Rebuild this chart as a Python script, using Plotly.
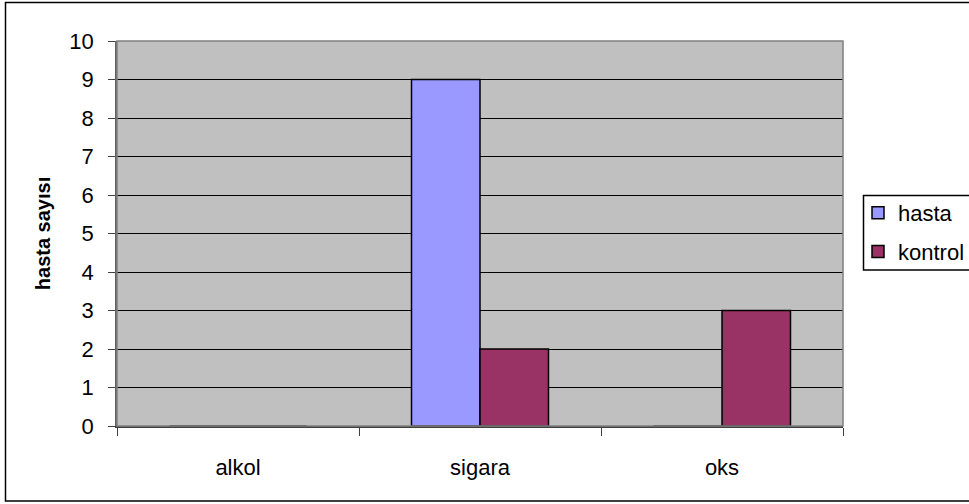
import plotly.graph_objects as go

categories = ["alkol", "sigara", "oks"]
hasta = [0, 9, 0]
kontrol = [0, 2, 3]
y_ticks = list(range(0, 11))

FONT = "Liberation Sans, Arial, sans-serif"

fig = go.Figure()
fig.add_trace(go.Bar(x=categories, y=hasta, name="hasta",
                     marker=dict(color="#9999FF", line=dict(color="black", width=1.5)),
                     legendgroup="a"))
fig.add_trace(go.Bar(x=categories, y=kontrol, name="kontrol",
                     marker=dict(color="#993366", line=dict(color="black", width=1.5)),
                     legendgroup="b"))

W, H = 969, 504
L, R, T, B = 117, 843, 41, 426
pw, ph = R - L, B - T

def px(x):
    return (x - L) / pw

def py(y):
    return (B - y) / ph

fig.update_layout(
    width=W, height=H,
    margin=dict(l=L, r=W - R, t=T, b=H - B, autoexpand=False),
    paper_bgcolor="white",
    plot_bgcolor="#C0C0C0",
    barmode="group",
    bargap=0.434,
    bargroupgap=0,
    font=dict(family=FONT, size=20, color="black"),
    showlegend=True,
    legend=dict(x=px(858), y=py(192), xanchor="left", yanchor="top",
                bgcolor="rgba(0,0,0,0)", borderwidth=0,
                font=dict(size=22), tracegroupgap=7, traceorder="grouped"),
    xaxis=dict(showgrid=False, showline=True, linecolor="#404040", linewidth=1.5,
               ticks="outside", ticklen=8, tickcolor="#404040", tickson="boundaries",
               tickfont=dict(size=22), ticklabelstandoff=21),
    yaxis=dict(range=[0, 10], tickvals=y_ticks, showgrid=True, gridcolor="black",
               gridwidth=1, zeroline=False, showline=True, linecolor="#606060",
               linewidth=1.5, ticks="outside", ticklen=7, tickcolor="#404040",
               tickfont=dict(size=22), ticklabelstandoff=10,
               title=dict(text="<b>hasta sayısı</b>", font=dict(size=20), standoff=13)),
    shapes=[
        dict(type="rect", xref="paper", yref="paper", x0=0, x1=1, y0=0, y1=1,
             line=dict(color="#808080", width=1.5), layer="above"),
        dict(type="rect", xref="paper", yref="paper", x0=px(5.5), x1=px(990),
             y0=py(501), y1=py(2.5), line=dict(color="black", width=1.5)),
        dict(type="rect", xref="paper", yref="paper", x0=px(863.5), x1=px(990),
             y0=py(270), y1=py(195.5), line=dict(color="black", width=1.5)),
    ],
)

fig.write_html("out.html")
